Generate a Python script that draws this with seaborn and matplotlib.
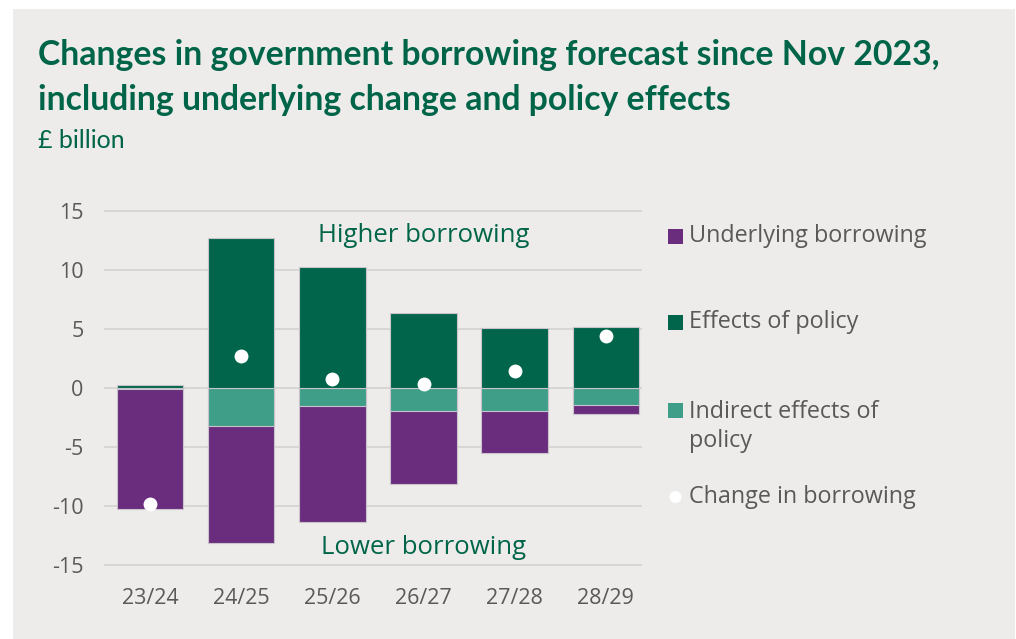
import matplotlib
matplotlib.use("Agg")
import matplotlib.pyplot as plt
from matplotlib.patches import Rectangle, Ellipse
import seaborn as sns

years = ["23/24", "24/25", "25/26", "26/27", "27/28", "28/29"]
underlying = [-10.15, -9.9, -9.8, -6.15, -3.55, -0.75]
policy = [0.3, 12.7, 10.3, 6.35, 5.1, 5.2]
indirect = [-0.1, -3.2, -1.5, -1.95, -1.95, -1.45]
change = [-9.8, 2.7, 0.75, 0.35, 1.5, 4.4]
yticks = [15, 10, 5, 0, -5, -10, -15]

PURPLE = "#6A2D7E"
DGREEN = "#00654A"
TEAL = "#3F9E88"
TXTGREEN = "#006548"
GREY = "#595959"
BG = "#EEECEA"

sns.set_theme(style="white")
plt.rcParams["font.family"] = ["Open Sans", "DejaVu Sans"]

fig = plt.figure(figsize=(10.16, 6.39), dpi=100)
fig.patch.set_facecolor("white")
W, H = 1016, 639
fig.patches.append(Rectangle((13 / W, 0), (1015 - 13) / W, (H - 9) / H,
                             transform=fig.transFigure, facecolor=BG,
                             edgecolor="none", zorder=-10))

ax = fig.add_axes([104.4 / W, 1 - 577 / H, 538 / W, 383.5 / H])
ax.set_facecolor("none")
ax.set_zorder(1)

neg_total = [u + i for u, i in zip(underlying, indirect)]
edge = dict(edgecolor="#C9C4CC", linewidth=0.8)
sns.barplot(x=years, y=neg_total, color=PURPLE, saturation=1, width=0.73,
            ax=ax, zorder=2, **edge)
sns.barplot(x=years, y=indirect, color=TEAL, saturation=1, width=0.73,
            ax=ax, zorder=3, **edge)
sns.barplot(x=years, y=policy, color=DGREEN, saturation=1, width=0.73,
            ax=ax, zorder=3, **edge)
sns.stripplot(x=years, y=change, jitter=False, color="white", size=10,
              linewidth=0, ax=ax, zorder=5)

ax.set_ylim(-16, 16.5)
ax.set_xlim(-0.5, 5.4)
ax.set_yticks(yticks)
ax.set_yticklabels([str(t) for t in yticks])
ax.yaxis.grid(True, color="#D6D4D2", linewidth=1.3, zorder=0)
ax.set_axisbelow(True)
for s in ax.spines.values():
    s.set_visible(False)
ax.tick_params(axis="both", length=0, labelsize=15.5, labelcolor=GREY, pad=8)
ax.tick_params(axis="y", pad=15)
ax.set_xlabel("")
ax.set_ylabel("")

ax.text(3.0, 12.9, "Higher borrowing", color=TXTGREEN, fontsize=18.5,
        ha="center", va="center", zorder=6)
ax.text(3.0, -13.5, "Lower borrowing", color=TXTGREEN, fontsize=18.5,
        ha="center", va="center", zorder=6)

# title
tfam = ["Lato", "DejaVu Sans"]
fig.text(38 / W, 1 - 55 / H,
         "Changes in government borrowing forecast since Nov 2023,",
         color=TXTGREEN, fontsize=24.3, fontweight="bold",
         family=tfam, ha="left", va="center")
fig.text(38 / W, 1 - 100 / H,
         "including underlying change and policy effects",
         color=TXTGREEN, fontsize=24.3, fontweight="bold",
         family=tfam, ha="left", va="center")
fig.text(38 / W, 1 - 141 / H, "£ billion", color=TXTGREEN, fontsize=18,
         family=tfam, ha="left", va="center")

# legend
leg = [("Underlying borrowing", PURPLE, 236, "s"),
       ("Effects of policy", DGREEN, 322, "s"),
       ("Indirect effects of\npolicy", TEAL, 410, "s"),
       ("Change in borrowing", "white", 497, "o")]
for label, col, yy, mk in leg:
    if mk == "s":
        fig.patches.append(Rectangle((668 / W, 1 - (yy + 7.5) / H), 15 / W, 15 / H,
                                     transform=fig.transFigure, facecolor=col,
                                     edgecolor="none", zorder=3))
    else:
        fig.patches.append(Ellipse((675.5 / W, 1 - yy / H), 12 / W, 12 / H,
                                   transform=fig.transFigure, facecolor=col,
                                   edgecolor="none", zorder=3))
    if "\n" in label:
        fig.text(689 / W, 1 - (yy - 10) / H, label, color=GREY, fontsize=16.8,
                 ha="left", va="top", linespacing=1.27)
    else:
        fig.text(689 / W, 1 - yy / H, label, color=GREY, fontsize=16.8,
                 ha="left", va="center")

fig.savefig("out.png", dpi=100, facecolor=fig.get_facecolor())
